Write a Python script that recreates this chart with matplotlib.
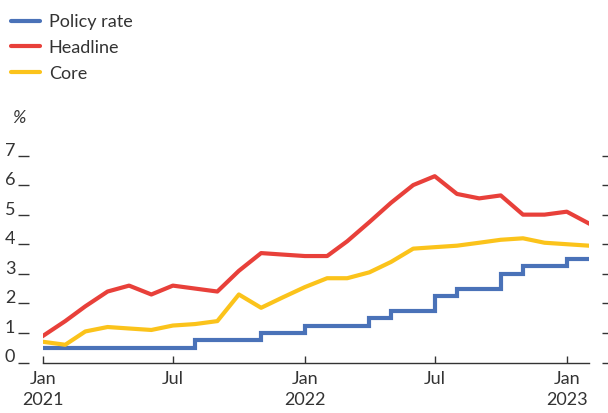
import matplotlib
matplotlib.use("Agg")
import matplotlib.pyplot as plt
import pandas as pd

plt.rcParams['font.family'] = ['Lato', 'DejaVu Sans']

# Monthly data, Jan 2021 - Feb 2023
months = pd.date_range("2021-01-01", "2023-02-01", freq="MS")

policy_rate = [0.5, 0.5, 0.5, 0.5, 0.5, 0.5, 0.5,
               0.75, 0.75, 0.75, 1.0, 1.0,
               1.25, 1.25, 1.25, 1.5, 1.75, 1.75,
               2.25, 2.5, 2.5, 3.0, 3.25, 3.25,
               3.5, 3.5]
headline = [0.9, 1.4, 1.9, 2.4, 2.6, 2.3, 2.6, 2.5, 2.4, 3.1, 3.7, 3.65,
            3.6, 3.6, 4.1, 4.75, 5.4, 6.0, 6.3, 5.7, 5.55, 5.65, 5.0, 5.0,
            5.1, 4.7]
core = [0.7, 0.6, 1.05, 1.2, 1.15, 1.1, 1.25, 1.3, 1.4, 2.3, 1.85, 2.2,
        2.55, 2.85, 2.85, 3.05, 3.4, 3.85, 3.9, 3.95, 4.05, 4.15, 4.2, 4.05,
        4.0, 3.95]

y_ticks = [0, 1, 2, 3, 4, 5, 6, 7]
x_ticks = ["2021-01-01", "2021-07-01", "2022-01-01", "2022-07-01", "2023-01-01"]
x_labels = ["Jan\n2021", "Jul", "Jan\n2022", "Jul", "Jan\n2023"]

BLUE = "#4a72b8"
RED = "#e8403a"
YELLOW = "#fbc31b"
TEXT = "#333333"
FS = 13

fig = plt.figure(figsize=(6.08, 4.13), dpi=100)
ax = fig.add_axes([43 / 608, 50.5 / 413, 546 / 608, 207 / 413])

ax.plot(months, policy_rate, color=BLUE, lw=3, drawstyle="steps-post",
        label="Policy rate", solid_joinstyle="miter")
ax.plot(months, headline, color=RED, lw=3, label="Headline")
ax.plot(months, core, color=YELLOW, lw=3, label="Core")

ax.set_xlim(months[0], months[-1])
ax.set_ylim(0, 7)

for s in ["top", "left", "right"]:
    ax.spines[s].set_visible(False)
ax.spines["left"].set_position(("outward", 10))
ax.spines["right"].set_position(("outward", 9))
ax.spines["bottom"].set_color(TEXT)
ax.spines["bottom"].set_linewidth(1)

ax.set_yticks(y_ticks)
ax.set_yticklabels([str(v) for v in y_ticks])
ax.tick_params(axis="y", left=True, right=True, direction="out", length=8,
               width=1, color=TEXT, pad=2, labelsize=FS, labelcolor=TEXT,
               labelright=False)
for t in ax.yaxis.get_major_ticks():
    t.tick2line.set_markersize(10)
    t.tick2line.set_color("#666666")
for lbl in ax.get_yticklabels():
    lbl.set_verticalalignment("baseline")

ax.set_xticks(pd.to_datetime(x_ticks))
ax.set_xticklabels(x_labels, linespacing=1.4)
ax.tick_params(axis="x", direction="in", length=5, width=1, color=TEXT,
               pad=6, labelsize=FS, labelcolor=TEXT)

fig.text(12 / 608, 1 - 118 / 413, "%", fontsize=FS, color=TEXT,
         style="italic", va="center", ha="left")

leg = fig.legend(loc="upper left", bbox_to_anchor=(0.0, 1 - 3 / 413),
                 frameon=False, fontsize=FS, handlelength=1.6,
                 handletextpad=0.5, labelspacing=0.55, borderpad=0.3,
                 borderaxespad=0.3, labelcolor=TEXT)
for h in leg.get_lines():
    h.set_solid_capstyle("round")

fig.savefig("out.png", dpi=100)
